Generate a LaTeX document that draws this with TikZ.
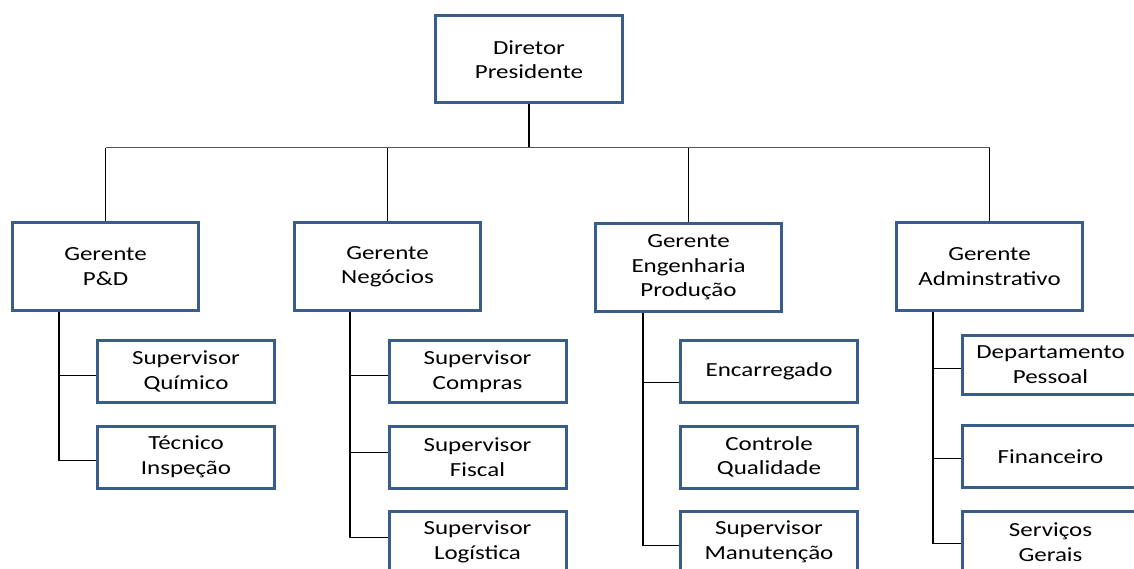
\documentclass[tikz,border=0pt]{standalone}
\usepackage{fontspec}
\setmainfont[FakeStretch=1.25]{Carlito}
\definecolor{boxblue}{HTML}{385D8A}
\definecolor{busgray}{HTML}{555555}
\begin{document}
\begin{tikzpicture}[x=1pt,y=-1pt,
  unit/.style={draw=boxblue, line width=3pt, fill=white, align=center,
    inner sep=0pt, font=\fontsize{20}{24.5}\selectfont},
  topbox/.style={unit, minimum width=187pt, minimum height=87pt},
  mgrbox/.style={unit, minimum width=186pt, minimum height=87pt},
  subbox/.style={unit, minimum width=177pt, minimum height=62pt},
  link/.style={draw=black, line width=1pt},
  trunk/.style={draw=black, line width=1.1pt},
  bus/.style={draw=busgray, line width=1pt}]
\useasboundingbox (0,0) rectangle (1134,569);
\clip (0,0) rectangle (1134,569);

% director
\node[topbox] (dir) at (529,59.5) {Diretor\\Presidente};

% managers
\node[mgrbox] (pd)  at (105.5,266.5) {Gerente\\P\&D};
\node[mgrbox] (neg) at (387.5,266.5) {Gerente\\Negócios};
\node[mgrbox] (eng) at (688.5,267.5) {Gerente\\Engenharia\\Produção};
\node[mgrbox] (adm) at (989.5,266.5) {Gerente\\Adminstrativo};

% P&D units
\node[subbox] (pd1) at (186,371.5) {Supervisor\\Químico};
\node[subbox] (pd2) at (186,457)   {Técnico\\Inspeção};

% business units
\node[subbox] (ng1) at (477.5,371.5) {Supervisor\\Compras};
\node[subbox] (ng2) at (477.5,457)   {Supervisor\\Fiscal};
\node[subbox] (ng3) at (477.5,542)   {Supervisor\\Logística};

% engineering units
\node[subbox] (en1) at (769,371.5) {Encarregado};
\node[subbox] (en2) at (769,457)   {Controle\\Qualidade};
\node[subbox] (en3) at (769,542)   {Supervisor\\Manutenção};

% administrative units
\node[subbox, minimum height=59pt] (ad1) at (1050.5,364.5) {Departamento\\Pessoal};
\node[subbox] (ad2) at (1050.5,456.5) {Financeiro};
\node[subbox] (ad3) at (1050.5,542)   {Serviços\\Gerais};

% director to manager bus
\coordinate (busy) at (0,148);
\draw[line width=2pt] (dir.south) -- (dir.south |- busy);
\draw[bus] (pd.north |- busy) -- (adm.north |- busy);
\foreach \m in {pd,neg,eng,adm}
  \draw[link] (\m.north |- busy) -- (\m.north);

% P&D branch
\coordinate (tpd) at (59,0);
\draw[trunk] (pd.south -| tpd) -- ([yshift=-3.5pt]pd2.west -| tpd);
\draw[link] ([yshift=-4pt]pd1.west -| tpd) -- ([yshift=-4pt]pd1.west);
\draw[link] ([yshift=-3.5pt]pd2.west -| tpd) -- ([yshift=-3.5pt]pd2.west);

% business branch
\coordinate (tng) at (350,0);
\draw[trunk] (neg.south -| tng) -- ([yshift=4.5pt]ng3.west -| tng);
\draw[link] ([yshift=-4pt]ng1.west -| tng) -- ([yshift=-4pt]ng1.west);
\draw[link] ([yshift=4.5pt]ng2.west -| tng) -- ([yshift=4.5pt]ng2.west);
\draw[link] ([yshift=4.5pt]ng3.west -| tng) -- ([yshift=4.5pt]ng3.west);

% engineering branch
\coordinate (ten) at (643,0);
\draw[trunk] (eng.south -| ten) -- ([yshift=-3.5pt]en3.west -| ten);
\draw[link] ([yshift=-11pt]en1.west -| ten) -- ([yshift=-11pt]en1.west);
\draw[link] ([yshift=-3.5pt]en3.west -| ten) -- ([yshift=-3.5pt]en3.west);

% administrative branch
\coordinate (tad) at (933,0);
\draw[trunk] (adm.south -| tad) -- ([yshift=-1.5pt]ad3.west -| tad);
\draw[link] ([yshift=-4pt]ad1.west -| tad) -- ([yshift=-4pt]ad1.west);
\draw[link] ([yshift=-2pt]ad2.west -| tad) -- ([yshift=-2pt]ad2.west);
\draw[link] ([yshift=-1.5pt]ad3.west -| tad) -- ([yshift=-1.5pt]ad3.west);
\end{tikzpicture}
\end{document}
